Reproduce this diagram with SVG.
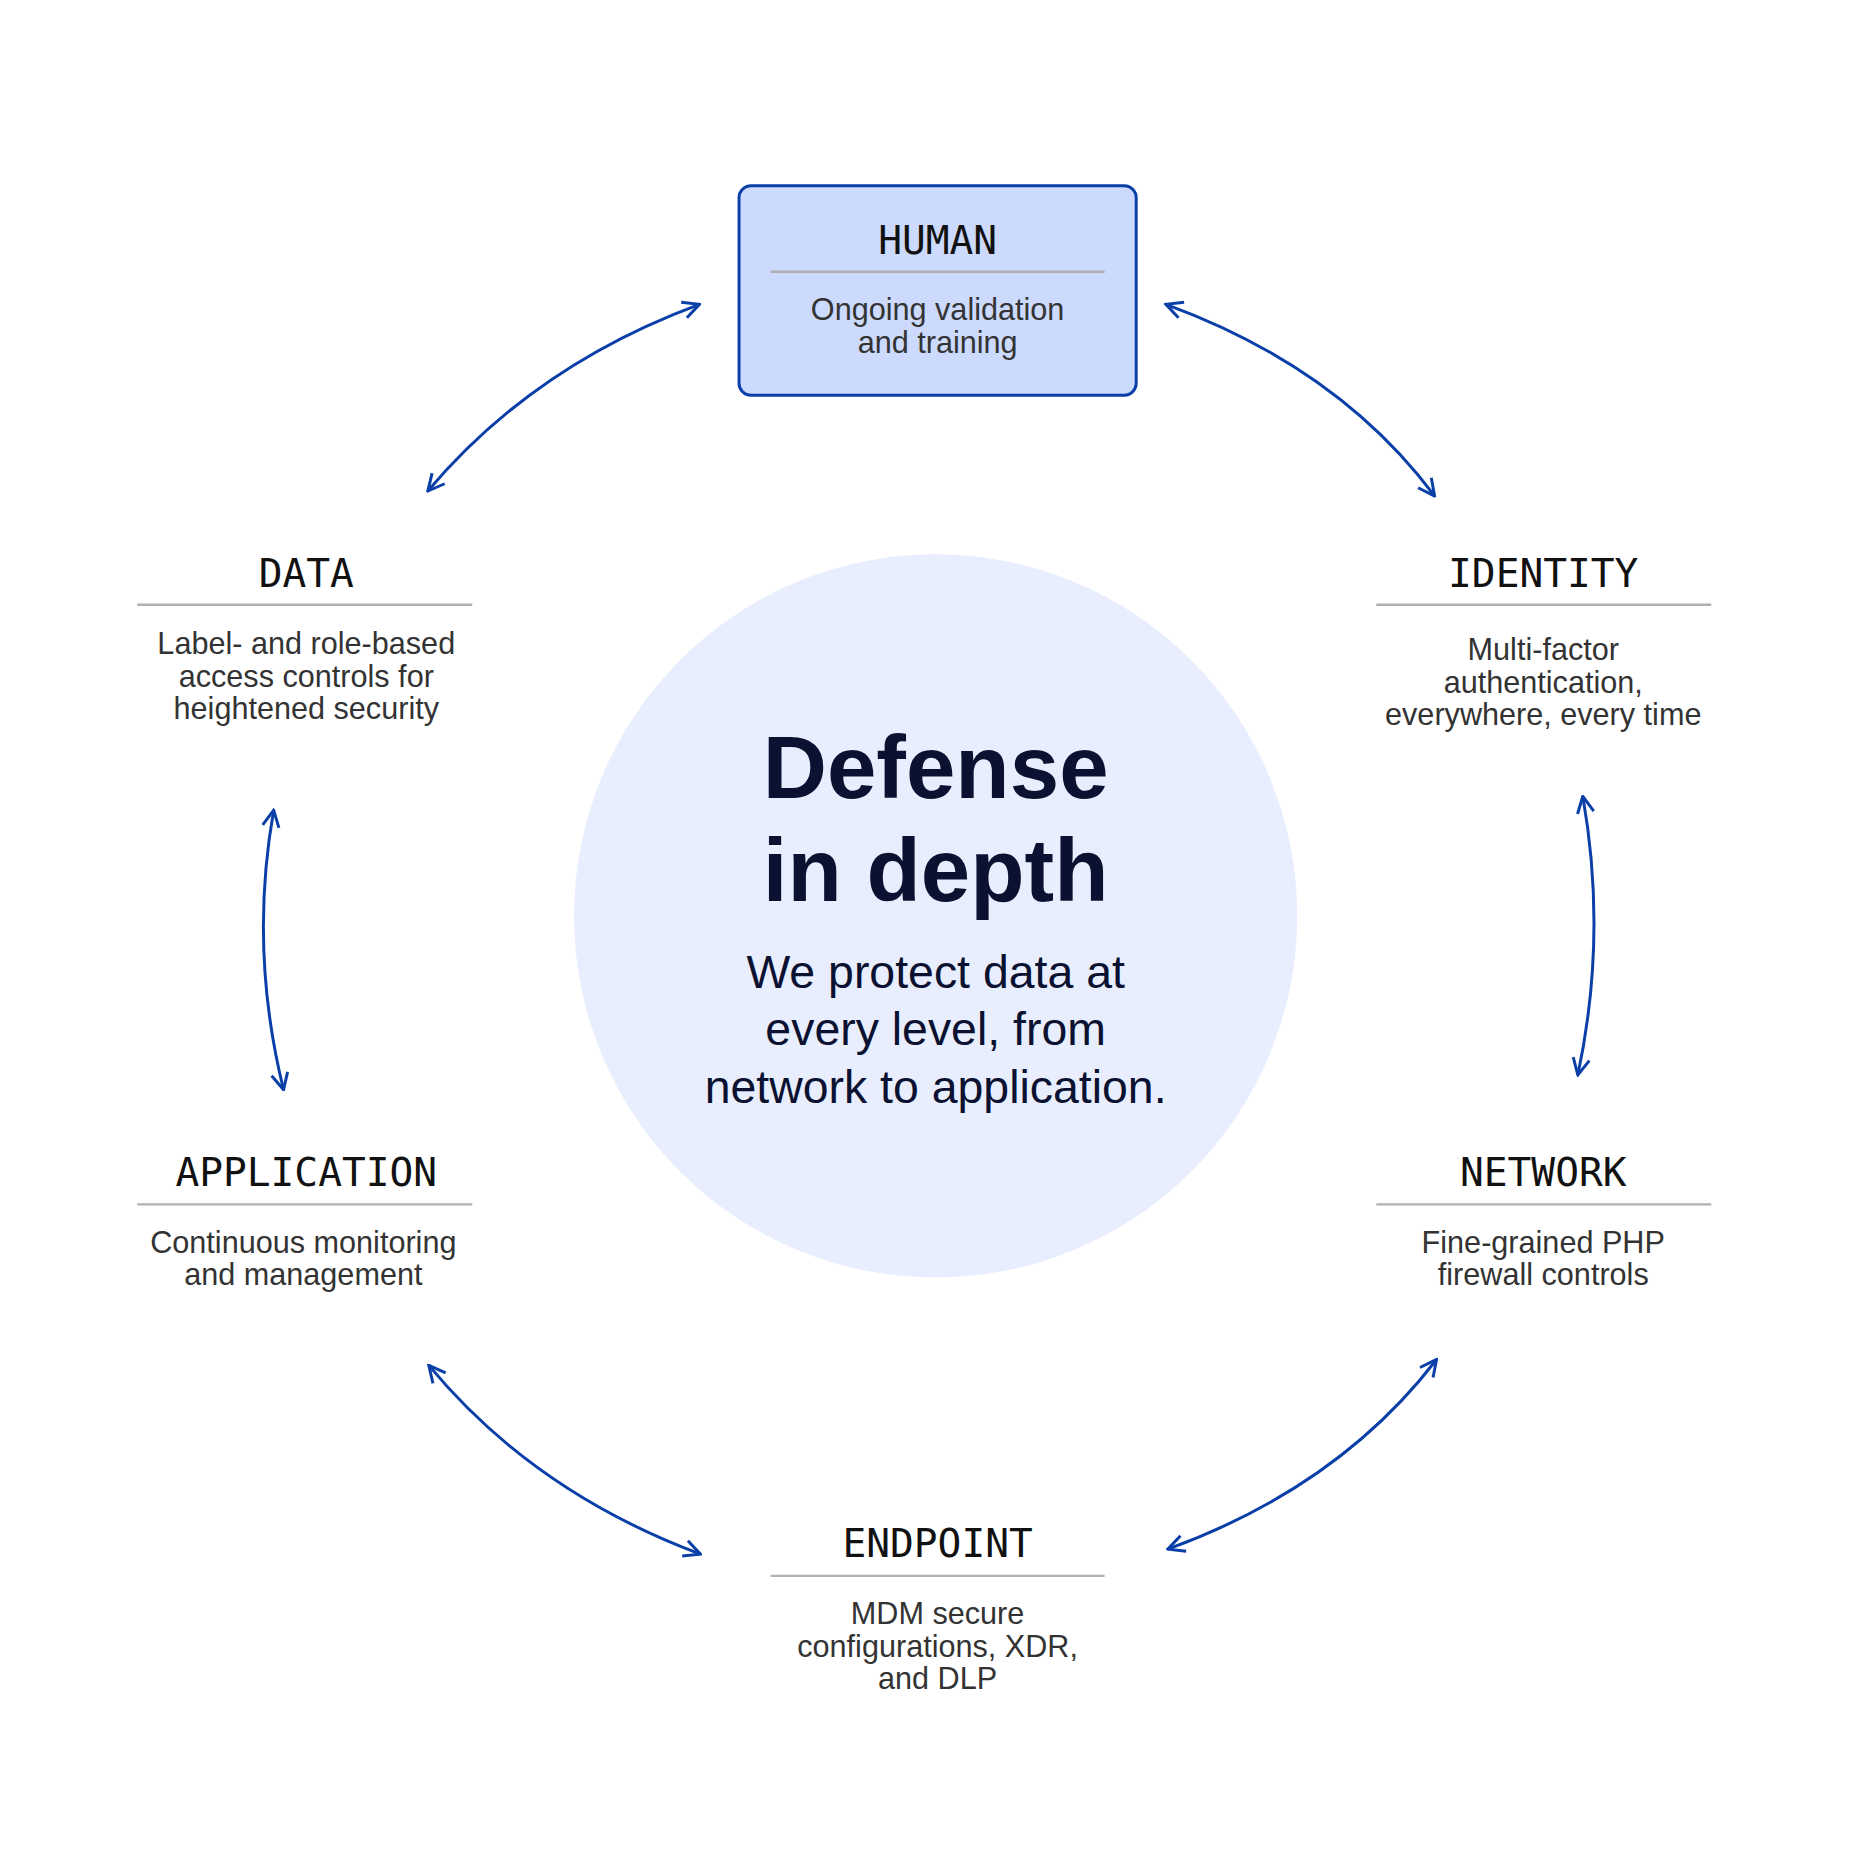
<svg xmlns="http://www.w3.org/2000/svg" width="1858" height="1857" viewBox="0 0 1858 1857">
<style>
.h{font-family:"DejaVu Sans Mono","Liberation Mono",monospace;font-size:40px;fill:#111;text-anchor:middle}
.d{font-family:"Liberation Sans",Arial,sans-serif;font-size:31px;fill:#333;text-anchor:middle}
.rule{stroke:#b0b0b0;stroke-width:2.5}
.c{fill:none;stroke:#0a3fa8;stroke-width:3;marker-start:url(#ah);marker-end:url(#ah)}
.s{font-family:"Liberation Sans",Arial,sans-serif;font-size:47px;fill:#0b1130;text-anchor:middle}
</style>
<defs>
<marker id="ah" viewBox="0 0 12 12" refX="11" refY="6" markerWidth="20" markerHeight="20" markerUnits="userSpaceOnUse" orient="auto-start-reverse">
<path d="M1,1 L11,6 L1,11" fill="none" stroke="#0a3fa8" stroke-width="1.8"/>
</marker>
</defs>
<rect width="1858" height="1857" fill="#fff"/>
<g transform="scale(0.988)">
<g id="center">
<circle cx="947" cy="927" r="366" fill="#e8eefe"/>
<text x="947" y="808" font-family="Liberation Sans,Arial,sans-serif" font-size="90" font-weight="bold" fill="#0b1130" text-anchor="middle">Defense</text>
<text x="947" y="912" font-family="Liberation Sans,Arial,sans-serif" font-size="90" font-weight="bold" fill="#0b1130" text-anchor="middle">in depth</text>
<text class="s" x="947" y="1000">We protect data at</text>
<text class="s" x="947" y="1058">every level, from</text>
<text class="s" x="947" y="1116">network to application.</text>
</g>
<g id="human">
<rect x="748" y="188" width="402" height="212" rx="12" fill="#cbdafd" stroke="#0a3fa8" stroke-width="3"/>
<text class="h" x="949" y="257">HUMAN</text>
<line class="rule" x1="780" y1="275" x2="1118" y2="275" stroke="#8d97b0"/>
<text class="d" x="949" y="324">Ongoing validation</text>
<text class="d" x="949" y="357">and training</text>
</g>
<g id="data">
<text class="h" x="310" y="594">DATA</text>
<line class="rule" x1="139" y1="612" x2="478" y2="612"/>
<text class="d" x="310" y="662">Label- and role-based</text>
<text class="d" x="310" y="695">access controls for</text>
<text class="d" x="310" y="728">heightened security</text>
</g>
<g id="identity">
<text class="h" x="1562" y="594">IDENTITY</text>
<line class="rule" x1="1393" y1="612" x2="1732" y2="612"/>
<text class="d" x="1562" y="668">Multi-factor</text>
<text class="d" x="1562" y="701">authentication,</text>
<text class="d" x="1562" y="734">everywhere, every time</text>
</g>
<g id="application">
<text class="h" x="310" y="1200">APPLICATION</text>
<line class="rule" x1="139" y1="1219" x2="478" y2="1219"/>
<text class="d" x="307" y="1268">Continuous monitoring</text>
<text class="d" x="307" y="1301">and management</text>
</g>
<g id="network">
<text class="h" x="1562" y="1200">NETWORK</text>
<line class="rule" x1="1393" y1="1219" x2="1732" y2="1219"/>
<text class="d" x="1562" y="1268">Fine-grained PHP</text>
<text class="d" x="1562" y="1301">firewall controls</text>
</g>
<g id="endpoint">
<text class="h" x="949" y="1576">ENDPOINT</text>
<line class="rule" x1="780" y1="1595" x2="1118" y2="1595"/>
<text class="d" x="949" y="1644">MDM secure</text>
<text class="d" x="949" y="1677">configurations, XDR,</text>
<text class="d" x="949" y="1710">and DLP</text>
</g>
<g id="connectors">
<path class="c" d="M708,308 Q540,370 433,497"/>
<path class="c" d="M1180,308 Q1355,372 1452,502"/>
<path class="c" d="M277,820 Q252,961 287,1103"/>
<path class="c" d="M1602,806 Q1627,947 1597,1088"/>
<path class="c" d="M434,1382 Q540,1510 709,1573"/>
<path class="c" d="M1454,1376 Q1355,1505 1182,1568"/>
</g>
</g>
</svg>
